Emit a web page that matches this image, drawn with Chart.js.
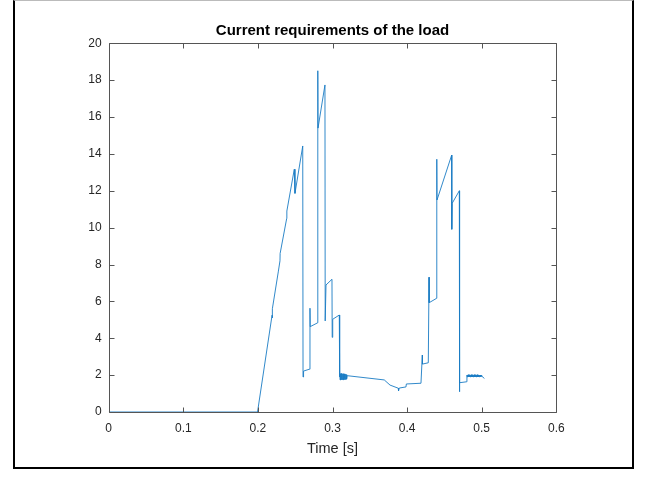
<!DOCTYPE html>
<html>
<head>
<meta charset="utf-8">
<script src="https://cdn.jsdelivr.net/npm/chart.js@4.4.1/dist/chart.umd.min.js"></script>
<style>
  html, body { margin: 0; padding: 0; background: #fff; }
  #wrap { position: relative; width: 646px; height: 477px; }
  #frame { position: absolute; left: 13px; top: 0px; width: 617px; height: 466px;
           border-left: 2px solid #000; border-right: 2px solid #000; border-bottom: 2px solid #000;
           border-top: 1px solid #bbb; box-sizing: content-box; }
  canvas { position: absolute; left: 0; top: 0; }
</style>
</head>
<body>
<div id="wrap">
  <div id="frame"></div>
  <canvas id="c" width="646" height="477"></canvas>
</div>
<script>
const chartTitle = 'Current requirements of the load';
const xAxisLabel = 'Time [s]';
const xTicks = [0, 0.1, 0.2, 0.3, 0.4, 0.5, 0.6];
const yTicks = [0, 2, 4, 6, 8, 10, 12, 14, 16, 18, 20];

const timeValues = [
  0, 0.1995, 0.2190, 0.2193, 0.2195, 0.2273, 0.2296, 0.2298, 0.2386, 0.2388,
  0.2488, 0.2497, 0.2601, 0.2605, 0.2612, 0.2689, 0.2698, 0.2701, 0.2802, 0.2803,
  0.2806, 0.2899, 0.2902, 0.2913, 0.2993, 0.2996, 0.3003, 0.3091, 0.3095,
  0.3097, 0.3102, 0.3107, 0.3112, 0.3117, 0.3122, 0.3127, 0.3132, 0.3137, 0.3142,
  0.3147, 0.3152, 0.3157, 0.3162, 0.3167, 0.3172, 0.3177, 0.3182, 0.3187, 0.3192, 0.3196,
  0.3694, 0.3771, 0.3882, 0.3885, 0.3895, 0.3985, 0.3990, 0.4186, 0.4204, 0.4206,
  0.4284, 0.4294, 0.4296, 0.4397, 0.4398, 0.4401, 0.4598, 0.4599, 0.4604, 0.4700,
  0.4701, 0.4706, 0.4799, 0.4802,
  0.4806, 0.4811, 0.4816, 0.4821, 0.4826, 0.4831, 0.4836, 0.4841, 0.4846, 0.4851,
  0.4856, 0.4861, 0.4866, 0.4871, 0.4876, 0.4881, 0.4886, 0.4891, 0.4896, 0.4901,
  0.4906, 0.4911, 0.4916, 0.4921, 0.4926, 0.4931, 0.4936, 0.4941, 0.4946, 0.4951,
  0.4956, 0.4961, 0.4966, 0.4971, 0.4976, 0.4981, 0.4986, 0.4991, 0.4996, 0.5003,
  0.5036
];
const currentValues = [
  0, 0, 5.25, 5.1, 5.6, 7.6, 8.2, 8.6, 10.5, 10.9,
  13.17, 11.86, 14.43, 1.9, 2.22, 2.32, 5.63, 4.63, 4.84, 18.51,
  15.4, 17.74, 4.94, 6.89, 7.2, 4.05, 5.03, 5.26, 1.9,
  2.10, 1.74, 2.08, 1.75, 2.09, 1.74, 2.08, 1.76, 2.07, 1.75,
  2.08, 1.76, 2.06, 1.75, 2.07, 1.77, 2.05, 1.78, 2.03, 1.80, 1.97,
  1.74, 1.46, 1.29, 1.14, 1.30, 1.36, 1.52, 1.56, 3.09, 2.60,
  2.67, 7.31, 5.93, 6.17, 13.71, 11.5, 13.94, 9.91, 11.32, 12.0,
  1.1, 1.59, 1.64, 2.0,
  1.91, 2.01, 1.90, 2.02, 1.91, 2.01, 1.90, 2.02, 1.91, 2.01,
  1.90, 2.02, 1.91, 2.01, 1.90, 2.02, 1.91, 2.01, 1.90, 2.02,
  1.91, 2.01, 1.90, 2.02, 1.91, 2.01, 1.90, 2.02, 1.91, 2.01,
  1.90, 2.01, 1.91, 2.00, 1.91, 2.00, 1.92, 1.99, 1.92, 1.95,
  1.82
];

const points = timeValues.map((t, i) => ({ x: t, y: currentValues[i] }));

const AXIS_COLOR = '#555555';
const TEXT_COLOR = '#262626';
const FONT = "'Liberation Sans', Arial, Helvetica, sans-serif";

const boxPlugin = {
  id: 'matlabBox',
  afterDraw(chart) {
    const { ctx, chartArea: a, scales } = chart;
    ctx.save();
    ctx.strokeStyle = AXIS_COLOR;
    ctx.lineWidth = 1;
    const L = Math.round(a.left) + 0.5, R = Math.round(a.right) + 0.5;
    const T = Math.round(a.top) + 0.5, B = Math.round(a.bottom) + 0.5;
    ctx.beginPath();
    ctx.rect(L, T, R - L, B - T);
    ctx.stroke();
    const tl = 5;
    ctx.beginPath();
    xTicks.forEach(v => {
      const px = Math.round(scales.x.getPixelForValue(v)) + 0.5;
      ctx.moveTo(px, B); ctx.lineTo(px, B - tl);
      ctx.moveTo(px, T); ctx.lineTo(px, T + tl);
    });
    yTicks.forEach(v => {
      const py = Math.round(scales.y.getPixelForValue(v)) + 0.5;
      ctx.moveTo(L, py); ctx.lineTo(L + tl, py);
      ctx.moveTo(R, py); ctx.lineTo(R - tl, py);
    });
    ctx.stroke();
    ctx.restore();
  }
};

new Chart(document.getElementById('c'), {
  type: 'line',
  data: {
    datasets: [{
      data: points,
      borderColor: '#1a7cc4',
      borderWidth: 0.9,
      pointRadius: 0,
      tension: 0,
      fill: false
    }]
  },
  options: {
    responsive: false,
    animation: false,
    events: [],
    layout: { padding: { left: 0, right: 89.7, top: 0, bottom: 0 } },
    plugins: {
      legend: { display: false },
      tooltip: { enabled: false },
      title: {
        display: true,
        text: chartTitle,
        fullSize: false,
        color: '#000',
        font: { family: FONT, size: 15, weight: 'bold' },
        padding: { top: 21.5, bottom: 3.8 }
      }
    },
    scales: {
      x: {
        type: 'linear',
        min: 0, max: 0.6,
        afterBuildTicks: s => { s.ticks = xTicks.map(v => ({ value: v })); },
        afterFit: s => { s.height = 477 - 412; },
        grid: { display: false, drawTicks: false },
        border: { display: false },
        ticks: {
          color: TEXT_COLOR,
          font: { family: FONT, size: 12 },
          padding: 9,
          maxRotation: 0,
          callback: v => String(v)
        },
        title: {
          display: true,
          text: xAxisLabel,
          color: TEXT_COLOR,
          font: { family: FONT, size: 14.5 },
          padding: { top: 0, bottom: 19 }
        }
      },
      y: {
        type: 'linear',
        min: 0, max: 20,
        afterBuildTicks: s => { s.ticks = yTicks.map(v => ({ value: v })); },
        afterFit: s => { s.width = 108.7; },
        grid: { display: false, drawTicks: false },
        border: { display: false },
        ticks: {
          color: TEXT_COLOR,
          font: { family: FONT, size: 12 },
          padding: 7,
          callback: v => String(v)
        }
      }
    }
  },
  plugins: [boxPlugin]
});
</script>
</body>
</html>
